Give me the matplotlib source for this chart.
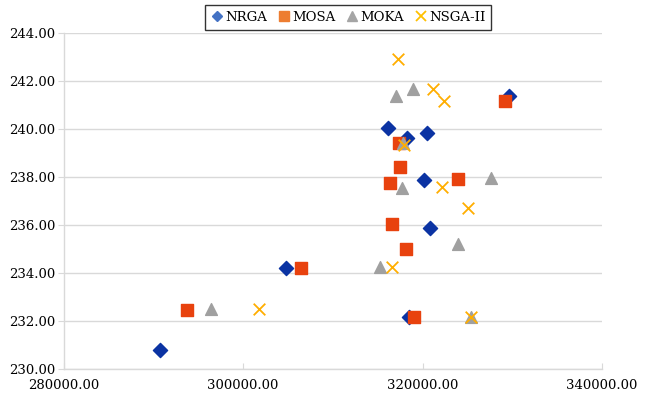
import matplotlib.pyplot as plt
from matplotlib.lines import Line2D
from matplotlib.ticker import FormatStrFormatter

# cost (x) vs. voltage (y) for each optimiser
nrga_x = [290700, 304800, 316200, 318300, 320500, 320150, 329650, 320800, 318450]
nrga_y = [230.80, 234.20, 240.05, 239.62, 239.85, 237.88, 241.37, 235.86, 232.15]

mosa_x = [293800, 306450, 317350, 317450, 316400, 323900, 329150, 316600, 318200, 319050]
mosa_y = [232.45, 234.22, 239.43, 238.42, 237.75, 237.93, 241.16, 236.03, 235.00, 232.15]

moka_x = [296400, 315300, 323900, 325350, 317750, 327650, 317850, 317000, 318900]
moka_y = [232.50, 234.25, 235.20, 232.15, 237.55, 237.95, 239.40, 241.38, 241.65]

nsga_x = [301800, 316550, 325050, 325450, 322200, 317900, 317250, 321150, 322400]
nsga_y = [232.52, 234.25, 236.70, 232.15, 237.58, 239.35, 242.92, 241.68, 241.15]

x_ticks = [280000, 300000, 320000, 340000]
y_ticks = [230, 232, 234, 236, 238, 240, 242, 244]

plt.rcParams['font.family'] = ['DejaVu Serif']

fig = plt.figure(figsize=(6.46, 3.94), dpi=100)
ax = fig.add_axes([63.5 / 646, 1 - 369 / 394, (602 - 63.5) / 646, (369 - 33) / 394])

ax.scatter(nrga_x, nrga_y, marker='D', s=52, color='#0B33A3', zorder=3)
ax.scatter(mosa_x, mosa_y, marker='s', s=72, color='#E8420E', zorder=3)
ax.scatter(moka_x, moka_y, marker='^', s=72, color='#A0A0A0', zorder=3)
ax.scatter(nsga_x, nsga_y, marker='x', s=70, color='#FFAE00', linewidths=1.3, zorder=4)

ax.set_xlim(280000, 340000)
ax.set_ylim(230, 244)
ax.set_xticks(x_ticks)
ax.set_yticks(y_ticks)
ax.xaxis.set_major_formatter(FormatStrFormatter('%.2f'))
ax.yaxis.set_major_formatter(FormatStrFormatter('%.2f'))

ax.grid(axis='y', color='#d9d9d9', linewidth=1.0, zorder=0)
ax.set_axisbelow(True)
for side in ['top', 'right']:
    ax.spines[side].set_visible(False)
for side in ['left', 'bottom']:
    ax.spines[side].set_color('#d9d9d9')
    ax.spines[side].set_linewidth(1.0)

ax.tick_params(axis='y', direction='out', length=4, color='#d9d9d9', labelsize=9.5, pad=2)
ax.tick_params(axis='x', direction='in', length=4, color='#d9d9d9', labelsize=9.5, pad=7)

handles = [
    Line2D([], [], marker='D', linestyle='', markersize=5.5, color='#4472C4'),
    Line2D([], [], marker='s', linestyle='', markersize=7, color='#ED7D31'),
    Line2D([], [], marker='^', linestyle='', markersize=7, color='#A5A5A5'),
    Line2D([], [], marker='x', linestyle='', markersize=7, color='#FFC000', markeredgewidth=1.3),
]
leg = fig.legend(handles, ['NRGA', 'MOSA', 'MOKA', 'NSGA-II'], ncol=4,
                 loc='center', bbox_to_anchor=(348 / 646, 1 - 17.5 / 394),
                 fontsize=9.5, frameon=True, fancybox=False,
                 handletextpad=0.1, columnspacing=0.8, handlelength=1.0,
                 borderpad=0.45)
leg.get_frame().set_edgecolor('black')
leg.get_frame().set_linewidth(1.0)

fig.savefig('out.png', dpi=100)
